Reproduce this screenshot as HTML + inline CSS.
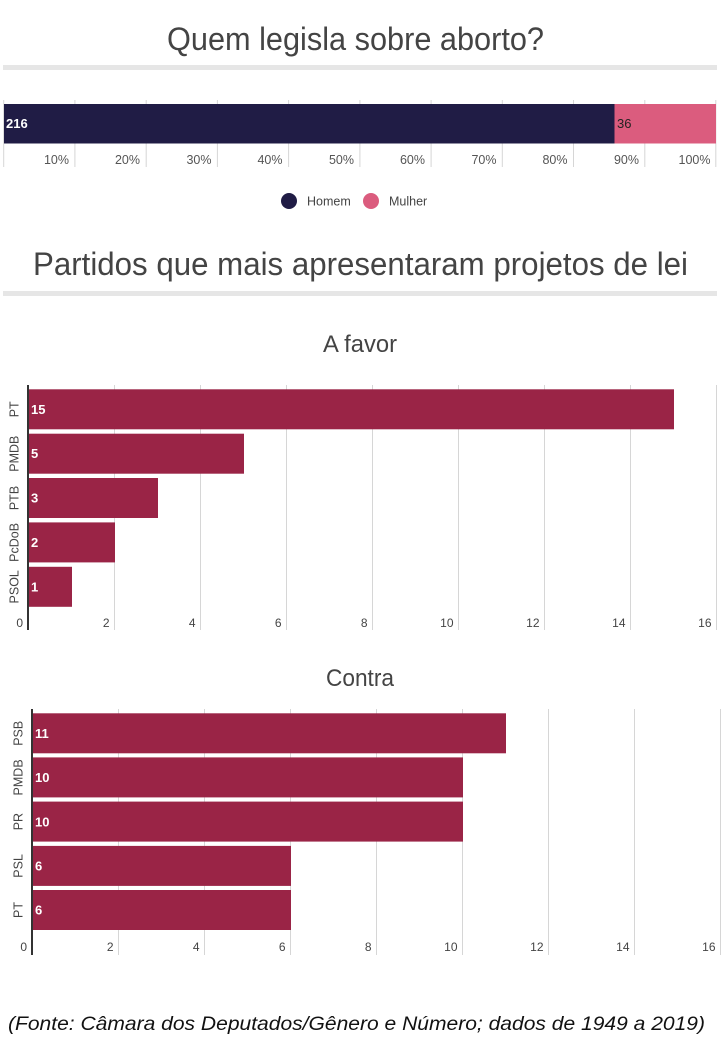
<!DOCTYPE html>
<html><head><meta charset="utf-8">
<style>
html,body{margin:0;padding:0;background:#fff;}
svg{display:block;}
text{font-family:"Liberation Sans",Arial,sans-serif;}
</style></head>
<body>
<svg width="726" height="1052" viewBox="0 0 726 1052" xmlns="http://www.w3.org/2000/svg">
<rect width="726" height="1052" fill="#fff"/>

<!-- Title 1 -->
<text x="167" y="50" font-size="32" fill="#444" textLength="377" lengthAdjust="spacingAndGlyphs">Quem legisla sobre aborto?</text>
<rect x="3" y="65" width="714" height="5" fill="#e6e6e6"/>

<!-- Top stacked bar gridlines -->
<g stroke="#d6d6d6" stroke-width="1">
<line x1="3.7" y1="100" x2="3.7" y2="167"/>
<line x1="74.9" y1="100" x2="74.9" y2="167"/>
<line x1="146.2" y1="100" x2="146.2" y2="167"/>
<line x1="217.4" y1="100" x2="217.4" y2="167"/>
<line x1="288.6" y1="100" x2="288.6" y2="167"/>
<line x1="359.9" y1="100" x2="359.9" y2="167"/>
<line x1="431.1" y1="100" x2="431.1" y2="167"/>
<line x1="502.3" y1="100" x2="502.3" y2="167"/>
<line x1="573.5" y1="100" x2="573.5" y2="167"/>
<line x1="644.8" y1="100" x2="644.8" y2="167"/>
<line x1="715.8" y1="100" x2="715.8" y2="167"/>
</g>
<rect x="4" y="104" width="610.5" height="39.5" fill="#201c45"/>
<rect x="614.5" y="104" width="101.5" height="39.5" fill="#db5c7e"/>
<text x="6" y="128" font-size="13" font-weight="bold" fill="#fff">216</text>
<text x="617" y="128" font-size="13" fill="#222">36</text>
<g font-size="12.5" fill="#555" text-anchor="end">
<text x="69" y="164">10%</text>
<text x="140" y="164">20%</text>
<text x="211.5" y="164">30%</text>
<text x="282.5" y="164">40%</text>
<text x="354" y="164">50%</text>
<text x="425" y="164">60%</text>
<text x="496.5" y="164">70%</text>
<text x="567.5" y="164">80%</text>
<text x="639" y="164">90%</text>
<text x="710.5" y="164">100%</text>
</g>

<!-- Legend -->
<circle cx="289" cy="201" r="8" fill="#201c45"/>
<text x="307" y="205.5" font-size="12.5" fill="#444">Homem</text>
<circle cx="371" cy="201" r="8" fill="#db5c7e"/>
<text x="389" y="205.5" font-size="12.5" fill="#444">Mulher</text>

<!-- Title 2 -->
<text x="33" y="275" font-size="32" fill="#444" textLength="655" lengthAdjust="spacingAndGlyphs">Partidos que mais apresentaram projetos de lei</text>
<rect x="3" y="291" width="714" height="5" fill="#e6e6e6"/>

<!-- A favor -->
<text x="323" y="352" font-size="24" fill="#444" textLength="74" lengthAdjust="spacingAndGlyphs">A favor</text>
<g stroke="#d6d6d6" stroke-width="1">
<line x1="114.5" y1="385" x2="114.5" y2="630"/>
<line x1="200.5" y1="385" x2="200.5" y2="630"/>
<line x1="286.5" y1="385" x2="286.5" y2="630"/>
<line x1="372.5" y1="385" x2="372.5" y2="630"/>
<line x1="458.5" y1="385" x2="458.5" y2="630"/>
<line x1="544.5" y1="385" x2="544.5" y2="630"/>
<line x1="630.5" y1="385" x2="630.5" y2="630"/>
<line x1="716.5" y1="385" x2="716.5" y2="630"/>
</g>
<g fill="#9a2446">
<rect x="29" y="389.3" width="645" height="40"/>
<rect x="29" y="433.7" width="215" height="40"/>
<rect x="29" y="478" width="129" height="40"/>
<rect x="29" y="522.4" width="86" height="40"/>
<rect x="29" y="566.8" width="43" height="40"/>
</g>
<rect x="27" y="385" width="2" height="245" fill="#333"/>
<g font-size="13" font-weight="bold" fill="#fff">
<text x="31" y="414">15</text>
<text x="31" y="458">5</text>
<text x="31" y="502.5">3</text>
<text x="31" y="547">2</text>
<text x="31" y="591.5">1</text>
</g>
<g font-size="12.5" fill="#444" text-anchor="middle">
<text transform="translate(18.5,409.3) rotate(-90)">PT</text>
<text transform="translate(18.5,453.7) rotate(-90)">PMDB</text>
<text transform="translate(18.5,498) rotate(-90)">PTB</text>
<text transform="translate(18.5,542.4) rotate(-90)">PcDoB</text>
<text transform="translate(18.5,586.8) rotate(-90)">PSOL</text>
</g>
<g font-size="12" fill="#444" text-anchor="end">
<text x="23" y="627">0</text>
<text x="109.5" y="627">2</text>
<text x="195.5" y="627">4</text>
<text x="281.5" y="627">6</text>
<text x="367.5" y="627">8</text>
<text x="453.5" y="627">10</text>
<text x="539.5" y="627">12</text>
<text x="625.5" y="627">14</text>
<text x="711.5" y="627">16</text>
</g>

<!-- Contra -->
<text x="326" y="686" font-size="24" fill="#444" textLength="68" lengthAdjust="spacingAndGlyphs">Contra</text>
<g stroke="#d6d6d6" stroke-width="1">
<line x1="118.5" y1="709" x2="118.5" y2="955"/>
<line x1="204.5" y1="709" x2="204.5" y2="955"/>
<line x1="290.5" y1="709" x2="290.5" y2="955"/>
<line x1="376.5" y1="709" x2="376.5" y2="955"/>
<line x1="462.5" y1="709" x2="462.5" y2="955"/>
<line x1="548.5" y1="709" x2="548.5" y2="955"/>
<line x1="634.5" y1="709" x2="634.5" y2="955"/>
<line x1="720.5" y1="709" x2="720.5" y2="955"/>
</g>
<g fill="#9a2446">
<rect x="33" y="713.3" width="473" height="40"/>
<rect x="33" y="757.4" width="430" height="40"/>
<rect x="33" y="801.6" width="430" height="40"/>
<rect x="33" y="845.9" width="258" height="40"/>
<rect x="33" y="890" width="258" height="40"/>
</g>
<rect x="31" y="709" width="2" height="246" fill="#333"/>
<g font-size="13" font-weight="bold" fill="#fff">
<text x="35" y="738">11</text>
<text x="35" y="782">10</text>
<text x="35" y="826.3">10</text>
<text x="35" y="870.5">6</text>
<text x="35" y="914.7">6</text>
</g>
<g font-size="12.5" fill="#444" text-anchor="middle">
<text transform="translate(22.5,733.3) rotate(-90)">PSB</text>
<text transform="translate(22.5,777.4) rotate(-90)">PMDB</text>
<text transform="translate(22.5,821.6) rotate(-90)">PR</text>
<text transform="translate(22.5,865.9) rotate(-90)">PSL</text>
<text transform="translate(22.5,910) rotate(-90)">PT</text>
</g>
<g font-size="12" fill="#444" text-anchor="end">
<text x="27" y="951">0</text>
<text x="113.5" y="951">2</text>
<text x="199.5" y="951">4</text>
<text x="285.5" y="951">6</text>
<text x="371.5" y="951">8</text>
<text x="457.5" y="951">10</text>
<text x="543.5" y="951">12</text>
<text x="629.5" y="951">14</text>
<text x="715.5" y="951">16</text>
</g>

<!-- Footer -->
<text x="8" y="1030" font-size="19" font-style="italic" fill="#111" textLength="697" lengthAdjust="spacingAndGlyphs">(Fonte: Câmara dos Deputados/Gênero e Número; dados de 1949 a 2019)</text>
</svg>
</body></html>
